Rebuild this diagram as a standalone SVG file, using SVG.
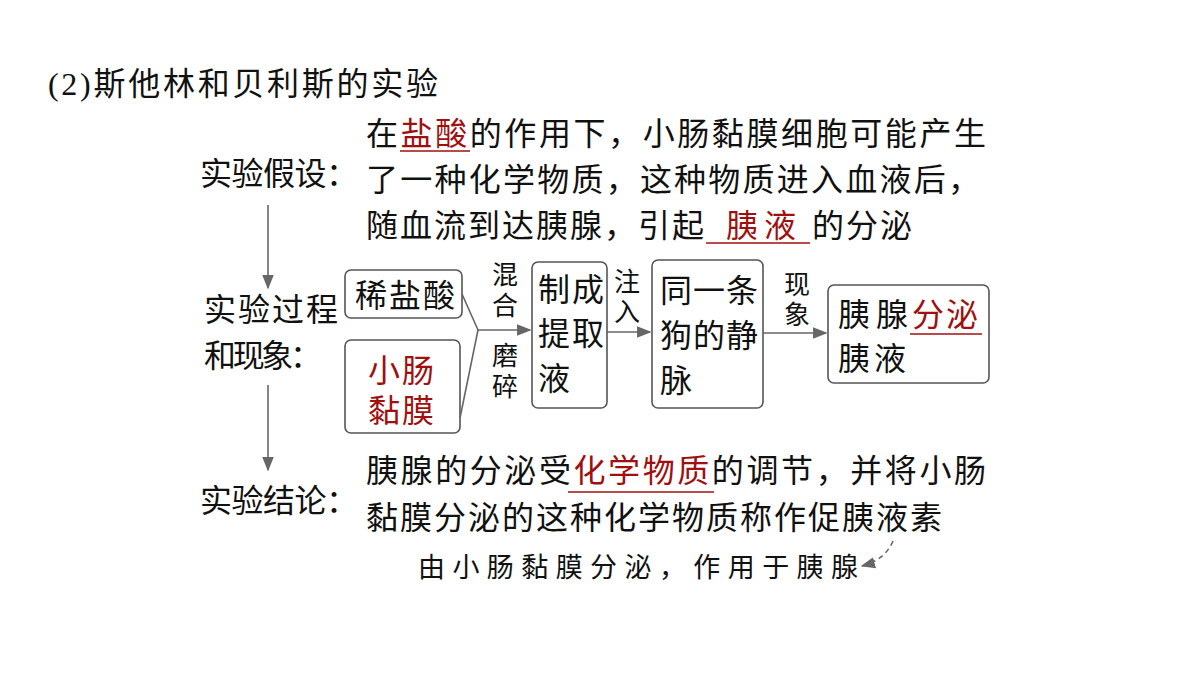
<svg xmlns="http://www.w3.org/2000/svg" width="1200" height="675" viewBox="0 0 1200 675">
<defs>
<style>
text{font-family:"Liberation Serif","Noto Sans CJK SC",serif;font-size:32px;fill:#111}
.r{fill:#a01010}
.s{font-size:26px}
.b{fill:#fff;stroke:#555;stroke-width:1.6}
.l{stroke:#666;stroke-width:1.6;fill:none}
.u{stroke:#a01010;stroke-width:1.5}
</style>
<marker id="a" viewBox="0 0 10 10" refX="9" refY="5" markerWidth="9" markerHeight="9" orient="auto"><path d="M0,1 L10,5 L0,9 Z" fill="#666"/></marker>
</defs>
<rect width="1200" height="675" fill="#fff"/>
<text x="48" y="95" textLength="390">(2)斯他林和贝利斯的实验</text>
<g id="hyp">
<text x="200" y="185" textLength="158">实验假设：</text>
<text x="366" y="145" textLength="620">在<tspan class="r">盐酸</tspan>的作用下，小肠黏膜细胞可能产生</text>
<line class="u" x1="400" y1="151" x2="470" y2="151"/>
<text x="366" y="191" textLength="614">了一种化学物质，这种物质进入血液后，</text>
<text x="366" y="237" textLength="338">随血流到达胰腺，引起</text>
<text class="r" x="726" y="237" textLength="70">胰液</text>
<text x="812" y="237" textLength="100">的分泌</text>
<line class="u" x1="706" y1="243" x2="810" y2="243"/>
</g>
<g id="proc-label"><text x="204" y="321" textLength="134">实验过程</text><text x="204" y="367" textLength="118">和现象：</text></g>
<g id="n1"><rect class="b" x="345" y="270" width="117" height="48" rx="6"/><text x="355" y="307" textLength="100">稀盐酸</text></g>
<g id="n2"><rect class="b" x="345" y="340" width="115" height="93" rx="6"/><text class="r" x="368" y="382" textLength="66">小肠</text><text class="r" x="368" y="422" textLength="66">黏膜</text></g>
<g id="n3"><rect class="b" x="532" y="262" width="75" height="146" rx="6"/><text x="538" y="301" textLength="66">制成</text><text x="538" y="345" textLength="66">提取</text><text x="538" y="390">液</text></g>
<g id="n4"><rect class="b" x="652" y="260" width="111" height="148" rx="6"/><text x="660" y="302" textLength="98">同一条</text><text x="660" y="347" textLength="98">狗的静</text><text x="660" y="392">脉</text></g>
<g id="n5"><rect class="b" x="828" y="285" width="161" height="98" rx="6"/><text x="838" y="326" textLength="70">胰腺</text><text class="r" x="912" y="326" textLength="66">分泌</text><text x="838" y="370" textLength="68">胰液</text><line class="u" x1="910" y1="334" x2="982" y2="334"/></g>
<g id="conn">
<line class="l" x1="268" y1="205" x2="268" y2="288" marker-end="url(#a)"/>
<line class="l" x1="268" y1="385" x2="268" y2="470" marker-end="url(#a)"/>
<polyline class="l" points="462,294 478,330 460,418"/>
<line class="l" x1="478" y1="330" x2="530" y2="330" marker-end="url(#a)"/>
<line class="l" x1="607" y1="332" x2="650" y2="332" marker-end="url(#a)"/>
<line class="l" x1="763" y1="333" x2="826" y2="333" marker-end="url(#a)"/>
<path class="l" d="M893,541 Q885,560 862,566" stroke-dasharray="5,4" marker-end="url(#a)"/>
</g>
<text class="s" x="492" y="284">混</text><text class="s" x="492" y="315">合</text>
<text class="s" x="492" y="365">磨</text><text class="s" x="492" y="396">碎</text>
<text class="s" x="614" y="291">注</text><text class="s" x="614" y="321">入</text>
<text class="s" x="784" y="294">现</text><text class="s" x="784" y="324">象</text>
<g id="concl">
<text x="200" y="512" textLength="158">实验结论：</text>
<text x="366" y="482" textLength="620">胰腺的分泌受<tspan class="r">化学物质</tspan>的调节，并将小肠</text>
<line class="u" x1="568" y1="492" x2="714" y2="492"/>
<text x="366" y="529" textLength="576">黏膜分泌的这种化学物质称作促胰液素</text>
<text x="418" y="577" style="font-size:27px" textLength="440">由小肠黏膜分泌，作用于胰腺</text>
</g>
</svg>
